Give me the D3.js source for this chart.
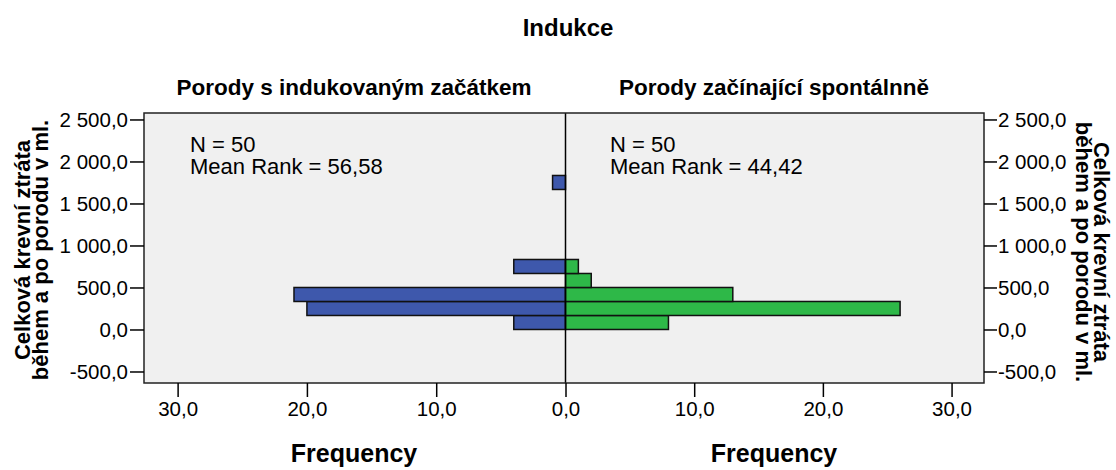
<!DOCTYPE html>
<html>
<head>
<meta charset="utf-8">
<script src="https://cdn.jsdelivr.net/npm/d3@7"></script>
<style>
  body { margin: 0; background: #fff; }
  svg text { font-family: "Liberation Sans", Arial, sans-serif; fill: #000; }
  .axis path.domain { display: none; }
  .axis line { stroke: #000; stroke-width: 1.5; }
</style>
</head>
<body>
<div id="chart"></div>
<script>
const width = 1116;
const height = 470;

// bin lower edges (ml), bin width 166.67
const binStarts = [0, 166.67, 333.33, 500, 666.67, 833.33, 1000, 1166.67, 1333.33, 1500, 1666.67];
const binWidth = 166.67;
const inducedCounts = [4, 20, 21, 0, 4, 0, 0, 0, 0, 0, 1];
const spontaneousCounts = [8, 26, 13, 2, 1, 0, 0, 0, 0, 0, 0];

const yTicks = [-500, 0, 500, 1000, 1500, 2000, 2500];
const xTicks = [0, 10, 20, 30];

const title = "Indukce";
const groupNames = ["Porody s indukovaným začátkem", "Porody začínající spontálnně"];
const groupN = [50, 50];
const meanRanks = ["56,58", "44,42"];
const yLabel = ["Celková krevní ztráta", "během a po porodu v ml."];

const plotLeft = 144, plotRight = 984, plotTop = 113, plotBottom = 383;
const center = 565.5;

const locale = d3.formatLocale({decimal: ",", thousands: " ", grouping: [3], currency: ["", ""], minus: "-"});
const fmt = locale.format(",.1f");

const svg = d3.select("#chart")
  .append("svg")
  .attr("width", width)
  .attr("height", height);

const y = d3.scaleLinear().domain([-637, 2577]).range([plotBottom, plotTop]);
const xLeft = d3.scaleLinear().domain([0, 32.6]).range([center, plotLeft]);
const xRight = d3.scaleLinear().domain([0, 32.52]).range([center, plotRight]);

// plot frame
svg.append("rect")
  .attr("x", plotLeft).attr("y", plotTop)
  .attr("width", plotRight - plotLeft).attr("height", plotBottom - plotTop)
  .attr("fill", "#f0f0f0");

const bins = binStarts.map((b, i) => ({lo: b, hi: b + binWidth, left: inducedCounts[i], right: spontaneousCounts[i]}));

svg.append("g")
  .selectAll("rect")
  .data(bins.filter(d => d.left > 0))
  .join("rect")
  .attr("x", d => xLeft(d.left))
  .attr("y", d => y(d.hi))
  .attr("width", d => xLeft(0) - xLeft(d.left))
  .attr("height", d => y(d.lo) - y(d.hi))
  .attr("fill", "#3e58ac")
  .attr("stroke", "#111")
  .attr("stroke-width", 1.5);

svg.append("g")
  .selectAll("rect")
  .data(bins.filter(d => d.right > 0))
  .join("rect")
  .attr("x", d => xRight(0))
  .attr("y", d => y(d.hi))
  .attr("width", d => xRight(d.right) - xRight(0))
  .attr("height", d => y(d.lo) - y(d.hi))
  .attr("fill", "#2eb848")
  .attr("stroke", "#111")
  .attr("stroke-width", 1.5);

svg.append("line")
  .attr("x1", center).attr("x2", center)
  .attr("y1", plotTop).attr("y2", plotBottom)
  .attr("stroke", "#000").attr("stroke-width", 1.5);

svg.append("rect")
  .attr("x", plotLeft).attr("y", plotTop)
  .attr("width", plotRight - plotLeft).attr("height", plotBottom - plotTop)
  .attr("fill", "none")
  .attr("stroke", "#222").attr("stroke-width", 1.5);

// axes
svg.append("g")
  .attr("class", "axis")
  .attr("transform", `translate(${plotLeft},0)`)
  .call(d3.axisLeft(y).tickValues(yTicks).tickFormat(fmt).tickSize(14).tickPadding(2))
  .selectAll("text").style("font-size", "20.5px");

svg.append("g")
  .attr("class", "axis")
  .attr("transform", `translate(${plotRight},0)`)
  .call(d3.axisRight(y).tickValues(yTicks).tickFormat(fmt).tickSize(13).tickPadding(1))
  .selectAll("text").style("font-size", "20.5px");

svg.append("g")
  .attr("class", "axis")
  .attr("transform", `translate(0,${plotBottom})`)
  .call(d3.axisBottom(xLeft).tickValues(xTicks).tickFormat(fmt).tickSize(14).tickPadding(4))
  .selectAll("text").style("font-size", "20.5px");

svg.append("g")
  .attr("class", "axis")
  .attr("transform", `translate(0,${plotBottom})`)
  .call(d3.axisBottom(xRight).tickValues(xTicks.slice(1)).tickFormat(fmt).tickSize(14).tickPadding(4))
  .selectAll("text").style("font-size", "20.5px");

// titles
svg.append("text")
  .attr("x", 568).attr("y", 36)
  .attr("text-anchor", "middle")
  .style("font-size", "24px").style("font-weight", "bold")
  .text(title);

const panelCenters = [354, 774];
groupNames.forEach((g, i) => {
  svg.append("text")
    .attr("x", panelCenters[i]).attr("y", 95)
    .attr("text-anchor", "middle")
    .style("font-size", "22.5px").style("font-weight", "bold")
    .text(g);

  svg.append("text")
    .attr("x", panelCenters[i]).attr("y", 462)
    .attr("text-anchor", "middle")
    .style("font-size", "25px").style("font-weight", "bold")
    .text("Frequency");
});

const statX = [190, 610];
groupN.forEach((n, i) => {
  const t = svg.append("text")
    .attr("x", statX[i]).attr("y", 152)
    .style("font-size", "22px");
  t.append("tspan").attr("x", statX[i]).text(`N = ${n}`);
  t.append("tspan").attr("x", statX[i]).attr("dy", 21.5).text(`Mean Rank = ${meanRanks[i]}`);
});

// y axis labels
const leftLab = svg.append("text")
  .attr("transform", "translate(0,250) rotate(-90)")
  .attr("text-anchor", "middle")
  .style("font-size", "22px").style("font-weight", "bold");
leftLab.append("tspan").attr("x", 0).attr("y", 30).text(yLabel[0]);
leftLab.append("tspan").attr("x", 0).attr("y", 48).text(yLabel[1]);

const rightLab = svg.append("text")
  .attr("transform", "translate(1116,252) rotate(90)")
  .attr("text-anchor", "middle")
  .style("font-size", "22px").style("font-weight", "bold");
rightLab.append("tspan").attr("x", 0).attr("y", 22).text(yLabel[0]);
rightLab.append("tspan").attr("x", 0).attr("y", 40).text(yLabel[1]);
</script>
</body>
</html>
